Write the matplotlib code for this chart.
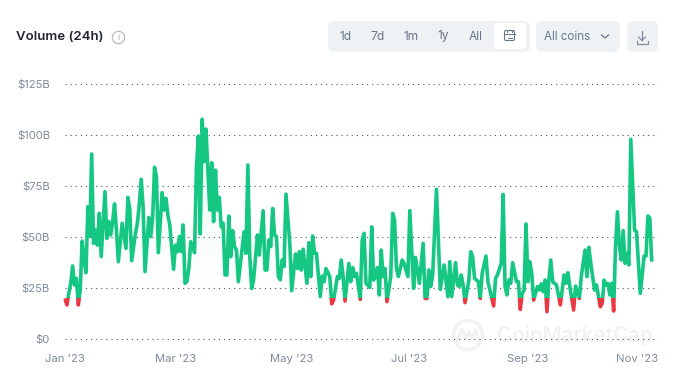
import numpy as np
import matplotlib
matplotlib.use("Agg")
import matplotlib.pyplot as plt
from matplotlib.patches import FancyBboxPatch, Circle, Rectangle, Polygon

plt.rcParams['font.family'] = ['Inter', 'DejaVu Sans']

# days since 1 Jan 2023
days = [0,1,2,3,4,5,6,7,8,9,10,11,12,13,14,15,16,17,18,19,21,22,23,24,25,26,27,28,30,32,33,34,35,37,38,39,40,41,42,44,45,46,47,48,49,51,52,53,54,55,57,58,59,60,61,62,63,64,65,66,68,69,70,71,72,73,74,75,76,77,78,79,80,81,82,83,84,85,86,87,88,89,90,91,94,95,96,97,98,99,101,102,104,105,106,107,108,109,110,111,112,113,114,115,116,118,119,121,122,123,124,125,127,128,129,130,131,132,134,135,136,137,139,140,141,143,144,145,146,147,149,150,151,152,153,155,156,157,158,160,161,162,163,164,165,166,167,168,169,171,172,173,174,175,177,178,180,181,183,184,186,188,189,190,191,192,193,195,197,199,201,202,203,205,206,207,208,209,210,212,213,214,215,217,218,219,221,222,225,226,227,229,230,231,232,233,234,235,237,238,239,240,241,242,243,244,245,246,248,249,250,251,252,253,254,255,256,258,260,262,263,264,265,267,268,270,271,273,274,275,276,278,279,281,282,283,284,285,286,287,288,289,290,291,292,293,294,295,296,297,299,300,301,302,304,305,306,307,308]
volume = [19.9,16.7,22.4,27.3,35.8,26.5,29.7,16.7,24,48,38.7,32.5,64.9,50.2,90.7,46.9,53.4,46,61.6,40.4,72.2,49.3,57.5,51,57.5,66.2,53.4,37.9,56.7,44.4,69.4,64,38.4,51.8,56.7,66,78.3,64.9,33,59.6,50.2,59.2,84.2,79.6,42.3,71.7,63.2,69,60.8,55.9,34.2,46,42.8,50.2,42.8,55.9,27.3,28.1,34.6,47.7,42.3,84.5,99.5,51.5,107.7,86.9,102.9,82.8,63.2,86.4,57.5,82.8,63.2,69.4,55,56.7,31.4,31.4,60.3,40.4,53.1,45.3,43.6,28.1,52.6,42,85.3,40.4,24.8,28.9,51,41.2,62.9,33.8,33.8,48.5,45.3,64,51,50.2,30.6,29,38.7,35.5,71,46.9,23.7,41.7,34.6,42.8,33.8,44,27.3,47.2,30.6,50.5,42,42,20.8,30.9,28.1,34.5,30.6,17.2,19.1,30.6,29.7,38.7,30.6,18.6,37,28.1,35,30.6,32.2,19.4,48.5,51.8,27.3,25.3,55,28.9,30.6,35,21.6,43.6,30.6,34.6,18.3,30.6,61.6,58.3,34.6,30.6,38.7,37,30.6,62.9,24.8,40,27.3,46.9,19.9,19.9,33.8,25.7,31.4,73.4,24.3,36.3,20.8,37.9,20.8,37.4,26.5,25.7,31.4,26.5,17.8,28.9,42.8,40.4,29.7,28.1,19.9,32.2,40.7,28.1,16.2,29.7,31.4,37.1,70.9,25.7,21.6,28.9,27.3,37.4,28.1,28.1,14.5,22.4,24,56.4,28.1,37.9,32.2,19.1,25.7,24,27,23.2,28.9,13.4,28.9,38.7,28.1,26.5,16.7,31.4,27.3,32.5,25.7,14.2,26,19.9,30.6,43.6,30.6,44.9,37.1,24,26.5,15.8,17.5,28.9,26.5,27.3,21.6,27.3,13.7,46,62.4,46,38.7,53.1,37.1,42,36.3,97.9,53.4,52.6,37.9,22.4,40.7,40.7,60.3,59.2,37.9]
y_ticks = [0, 25, 50, 75, 100, 125]
y_labels = ['$0', '$25B', '$50B', '$75B', '$100B', '$125B']
x_ticks = [0, 58, 119, 180.5, 243, 300.5]
x_labels = ["Jan '23", "Mar '23", "May '23", "Jul '23", "Sep '23", "Nov '23"]
ranges = ['1d', '7d', '1m', '1y', 'All']

GREEN, RED, GREY = '#16c784', '#ea3943', '#7f8a9c'
W, H = 680, 383
fig = plt.figure(figsize=(W/100, H/100), dpi=100, facecolor='white')

# overlay in pixel coordinates for the page furniture
ui = fig.add_axes([0, 0, 1, 1], zorder=0)
ui.set_xlim(0, W); ui.set_ylim(H, 0); ui.axis('off')

def box(x0, y0, x1, y1, fc, r=6):
    ui.add_patch(FancyBboxPatch((x0+r, y0+r), x1-x0-2*r, y1-y0-2*r,
                                boxstyle=f'round,pad={r},rounding_size={r}', fc=fc, ec='none'))

ui.text(16, 37, 'Volume (24h)', fontsize=9.5, fontweight='semibold', color='#222531', va='center')
ui.add_patch(Circle((118.5, 37.5), 6.2, fc='none', ec='#b4bcc8', lw=0.9))
ui.text(118.5, 37.5, 'i', fontsize=6.5, color='#a6afbd', ha='center', va='center')

box(328, 21, 530, 52, '#eff2f5', 6)
box(494, 23, 526, 49, '#ffffff', 4)
box(536, 21, 620, 52, '#eff2f5', 6)
box(627, 21, 658, 52, '#eff2f5', 6)
for x, t in zip([345.5, 377.5, 411, 443.5, 476], ranges):
    ui.text(x, 36.5, t, fontsize=8.6, color='#69758a', ha='center', va='center')
ui.text(567, 36.5, 'All coins', fontsize=8.4, color='#69758a', ha='center', va='center')
# calendar icon
ui.add_patch(FancyBboxPatch((505, 31), 9, 9, boxstyle='round,pad=0.5,rounding_size=1.5', fc='none', ec='#69758a', lw=0.8))
ui.plot([504.5, 514.5], [34, 34], color='#69758a', lw=0.7)
ui.plot([507, 507], [29.5, 32], color='#69758a', lw=0.7)
ui.plot([512, 512], [29.5, 32], color='#69758a', lw=0.7)
ui.plot([507.5, 511.5], [37.5, 37.5], color='#69758a', lw=0.7)
# chevron
ui.plot([601.5, 605, 608.5], [35, 38, 35], color='#69758a', lw=0.9)
# download icon
ui.plot([642, 642], [31, 40], color='#7f8a9c', lw=0.9)
ui.plot([638.5, 642, 645.5], [37, 40.5, 37], color='#7f8a9c', lw=0.9)
ui.plot([636.5, 636.5, 647.5, 647.5], [41, 43.5, 43.5, 41], color='#7f8a9c', lw=0.9)
# watermark
WM = '#f1f2f4'
ui.add_patch(Circle((468, 335), 14.5, fc='none', ec=WM, lw=2.6))
ui.plot([457, 462, 466, 469, 472, 475, 479], [341, 329, 339, 331, 339, 329, 341], color=WM, lw=2.2)
ui.text(497, 335, 'CoinMarketCap', fontsize=14.9, fontweight='semibold', color=WM, va='center')

# chart
x_scale = 1.905
ax = fig.add_axes([65/W, (H-339)/H, 593/W, 255/H], zorder=1)
ax.patch.set_alpha(0)
for s in ax.spines.values():
    s.set_visible(False)
ax.set_yticks(y_ticks, y_labels)
ax.set_xticks(x_ticks, x_labels)
ax.tick_params(length=0, labelcolor=GREY, labelsize=8.1)
ax.tick_params(axis='y', pad=10.8)
ax.tick_params(axis='x', pad=11)
for val in y_ticks:
    ax.axhline(val, color='#4a5568', lw=0.8, dashes=(1, 3.6), zorder=1, clip_on=False)

d = np.array(days, float); v = np.array(volume, float)
grad = np.zeros((256, 2, 4))
grad[..., :3] = matplotlib.colors.to_rgb(GREEN)
grad[..., 3] = np.clip(np.linspace(0.11, -0.03, 256), 0, 1)[:, None]
im = ax.imshow(grad, extent=[0, d.max(), 0, 110], origin='upper', aspect='auto', zorder=2)
ax.set_xlim(0, 593/x_scale); ax.set_ylim(0, 125)
poly = Polygon(np.column_stack([np.r_[d[0], d, d[-1]], np.r_[0, v, 0]]), closed=True,
               transform=ax.transData, fc='none', ec='none')
ax.add_patch(poly)
im.set_clip_path(poly)

THRESH = 20
g, = ax.plot(d, v, color=GREEN, lw=2.6, solid_joinstyle='round', solid_capstyle='butt', zorder=3)
r, = ax.plot(d, v, color=RED, lw=2.6, solid_joinstyle='round', solid_capstyle='butt', zorder=3)
g.set_clip_path(Rectangle((-5, THRESH), 330, 130, transform=ax.transData))
r.set_clip_path(Rectangle((-5, 0), 330, THRESH, transform=ax.transData))

fig.savefig('out.png', dpi=100)
